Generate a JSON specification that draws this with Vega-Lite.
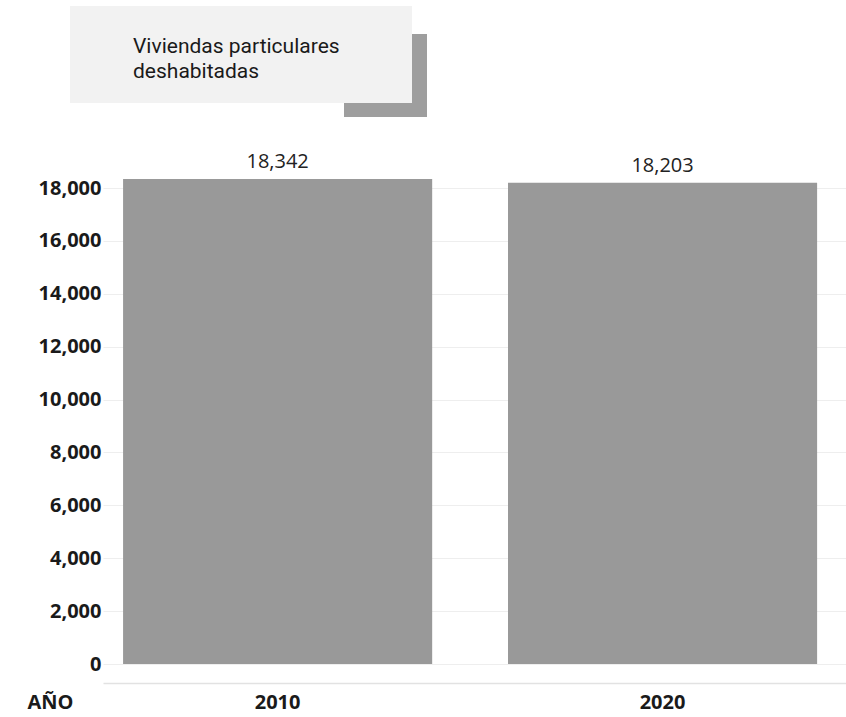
{
  "$schema": "https://vega.github.io/schema/vega-lite/v6.json",
  "autosize": "none",
  "padding": {"left": 103, "top": 179, "right": 0, "bottom": 53},
  "width": 743,
  "height": 485,
  "background": "white",
  "data": {"values": [
    {"anio": "2010", "viviendas": 18342, "serie": "Viviendas particulares deshabitadas", "etiqueta": "Viviendas particulares deshabitadas"},
    {"anio": "2020", "viviendas": 18203, "serie": "Viviendas particulares deshabitadas", "etiqueta": "Viviendas particulares deshabitadas"}
  ]},
  "encoding": {
    "x": {"field": "anio", "type": "nominal", "sort": null,
      "scale": {"paddingInner": 0.197, "paddingOuter": 0.0636, "align": 0.41},
      "axis": {"title": "AÑO", "labelAngle": 0, "domain": true, "domainColor": "#e2e2e2", "domainWidth": 1.5, "offset": 19, "ticks": false, "tickSize": 0,
        "labelPadding": 19, "labelBaseline": "middle", "labelFont": "Open Sans", "labelFontWeight": "bold", "labelFontSize": 20, "labelColor": "#1a1a1a",
        "titleX": -53, "titleY": 19, "titleBaseline": "middle", "titleAlign": "center", "titleFont": "Open Sans", "titleFontWeight": "bold", "titleFontSize": 20, "titleColor": "#1a1a1a"}},
    "y": {"field": "viviendas", "type": "quantitative",
      "scale": {"domain": [0, 18342], "nice": false},
      "axis": {"title": null, "values": [0, 2000, 4000, 6000, 8000, 10000, 12000, 14000, 16000, 18000], "format": ",d",
        "domain": false, "ticks": false, "labelPadding": 2, "gridColor": "#eeeeee",
        "labelFont": "Open Sans", "labelFontWeight": "bold", "labelFontSize": 20, "labelColor": "#1a1a1a"}}
  },
  "layer": [
    {"mark": {"type": "bar"},
     "encoding": {
       "color": {"field": "serie", "type": "nominal", "scale": {"range": ["#999999"]},
         "legend": {"orient": "none", "legendX": -33, "legendY": -173, "zindex": 5, "title": " ", "titleOrient": "right", "titlePadding": 51,
           "padding": 21, "fillColor": "#f2f2f2", "symbolType": "square", "symbolSize": 1521, "symbolOpacity": 0, "symbolStrokeWidth": 0,
           "labelExpr": "['Viviendas particulares', 'deshabitadas']", "labelFont": "Roboto", "labelFontSize": 21, "labelColor": "#1a1a1a", "labelOffset": 3, "labelLimit": 400}},
       "strokeDash": {"field": "etiqueta", "type": "nominal", "scale": {"range": [[1, 0]]},
         "legend": {"orient": "none", "legendX": 241, "legendY": -145, "zindex": 1, "title": null, "padding": 0,
           "symbolType": "square", "symbolSize": 6889, "symbolStrokeWidth": 0, "symbolOpacity": 1, "symbolFillColor": "#9e9e9e",
           "labelExpr": "''", "labelOffset": 0}}
     }},
    {"mark": {"type": "text", "baseline": "alphabetic", "dy": -11, "font": "Open Sans", "fontSize": 20, "color": "#222222"},
     "encoding": {"text": {"field": "viviendas", "type": "quantitative", "format": ","}}}
  ],
  "config": {"view": {"stroke": null}, "text": {"lineHeight": 25}, "style": {"guide-label": {"lineHeight": 25}}}
}
